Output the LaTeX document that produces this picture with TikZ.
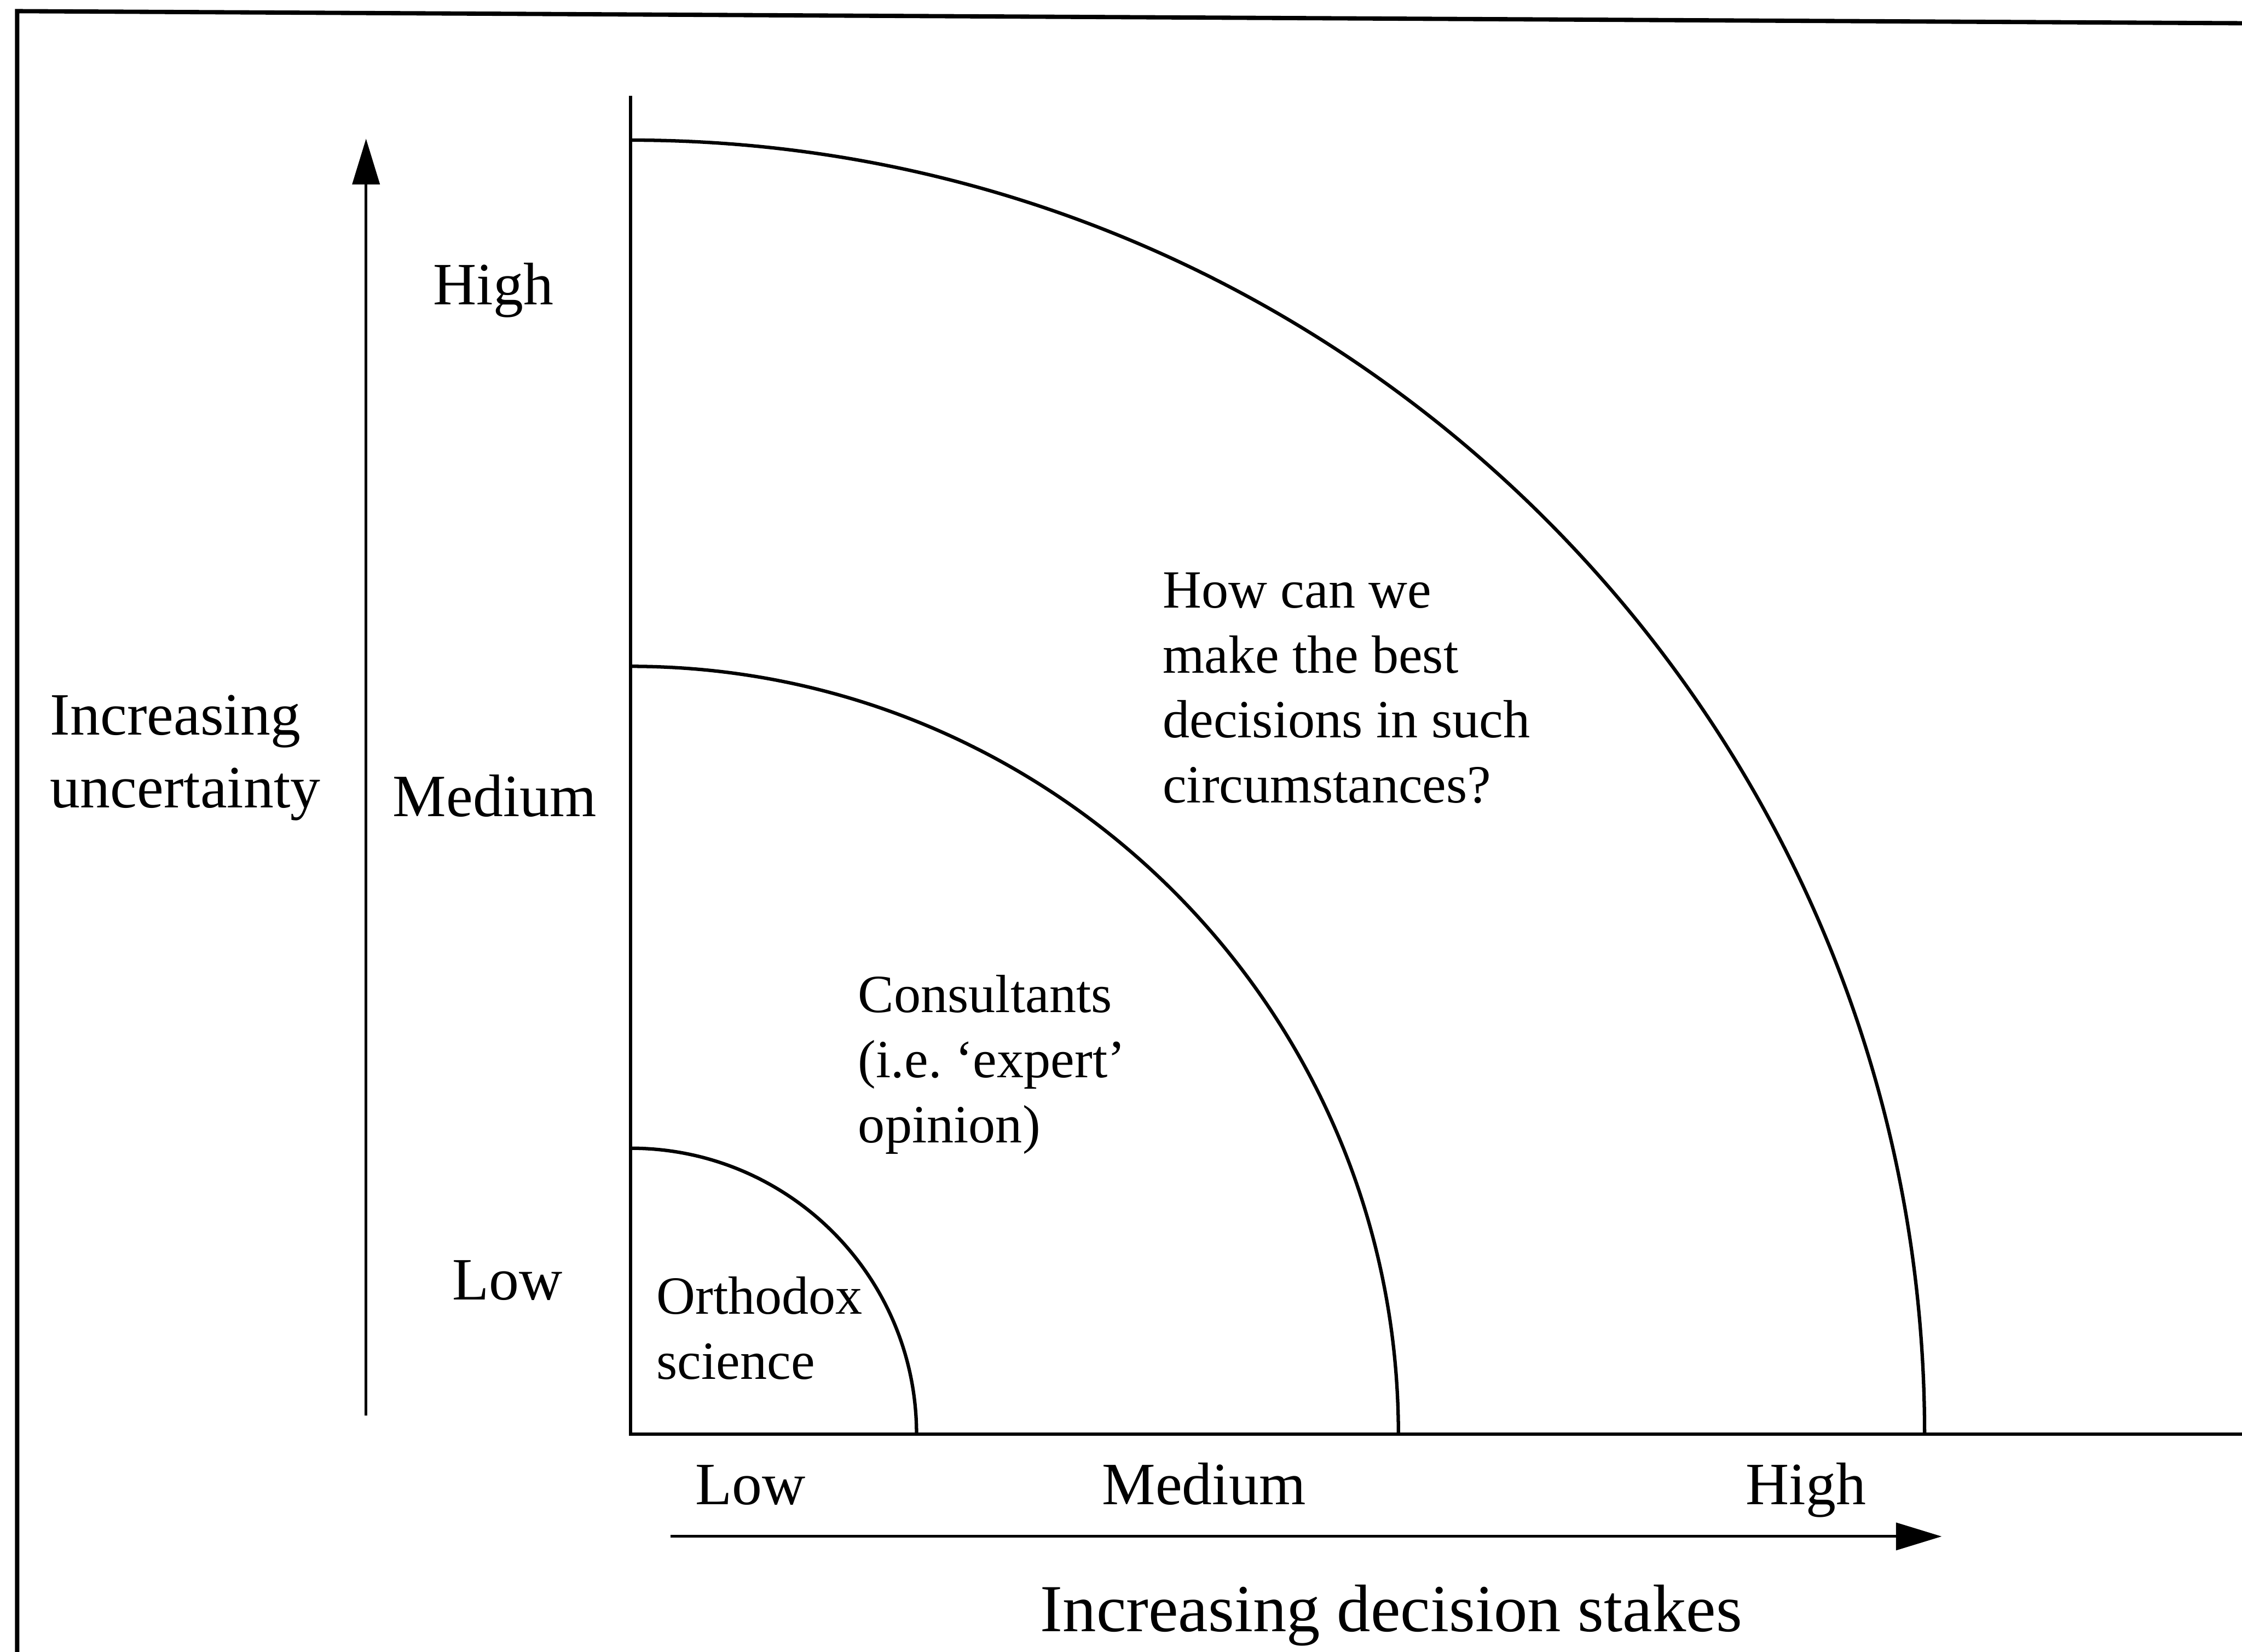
\documentclass[tikz,border=0pt]{standalone}
\usepackage{fontspec}
\setmainfont{Liberation Serif}
\usetikzlibrary{arrows.meta}
\begin{document}
\begin{tikzpicture}[x=1pt,y=1pt,
  frameline/.style={line width=3pt,line join=miter},
  axisline/.style={line width=2.4pt,line join=miter},
  zone/.style={line width=2.4pt},
  trend/.style={line width=2pt,-{Triangle[length=32pt,width=19pt]}},
  scalelbl/.style={font=\fontsize{42}{50}\selectfont,inner sep=0pt,anchor=base},
  axistitle/.style={font=\fontsize{42}{51}\selectfont,inner sep=0pt,anchor=base west,align=flush left,text width=260pt},
  zonetext/.style={font=\fontsize{37.6}{45.5}\selectfont,inner sep=0pt,anchor=base west,align=flush left,text width=330pt},
  stakestitle/.style={font=\fontsize{47}{56}\selectfont,inner sep=0pt,anchor=base}]
\useasboundingbox (0,0) rectangle (1568,-1155);

% outer frame (left and top edges)
\coordinate (fbl) at (12,-1170);
\coordinate (ftl) at (12,-7.8);
\coordinate (ftr) at (1575,-16.3);
\draw[frameline] (fbl) -- (ftl) -- (ftr);

% axes of the quadrant
\coordinate (O) at (441,-1003);
\coordinate (ytop) at (441,-67);
\coordinate (xend) at (1575,-1003);
\draw[axisline] (ytop) -- (O) -- (xend);

% nested quarter circles
\draw[zone] (O) ++(0,200) arc[start angle=90,end angle=0,radius=200];
\draw[zone] (O) ++(0,537) arc[start angle=90,end angle=0,radius=537];
\draw[zone] (O) ++(0,905) arc[start angle=90,end angle=0,radius=905];

% trend arrows
\coordinate (ua) at (256,-990);
\coordinate (ub) at (256,-97);
\draw[trend] (ua) -- (ub);
\coordinate (sa) at (469,-1074.5);
\coordinate (sb) at (1358,-1074.5);
\draw[trend] (sa) -- (sb);

% uncertainty scale
\node[scalelbl] (yhigh) at (345,-213) {High};
\node[scalelbl] (ymed) at (346,-571) {Medium};
\node[scalelbl] (ylow) at (355,-909) {Low};
\node[axistitle] (ytitle) at (35,-514) {Increasing\\uncertainty};

% decision-stakes scale
\node[scalelbl] (xlow) at (525,-1052) {Low};
\node[scalelbl] (xmed) at (842,-1052) {Medium};
\node[scalelbl] (xhigh) at (1263,-1052) {High};
\node[stakestitle] (xtitle) at (973,-1141) {Increasing decision stakes};

% zone descriptions
\node[zonetext] (orth) at (459,-919) {Orthodox\\science};
\node[zonetext] (cons) at (600,-708) {Consultants\\(i.e.\ ‘expert’\\opinion)};
\node[zonetext] (howq) at (813,-425) {How can we\\make the best\\decisions in such\\circumstances?};
\end{tikzpicture}
\end{document}
